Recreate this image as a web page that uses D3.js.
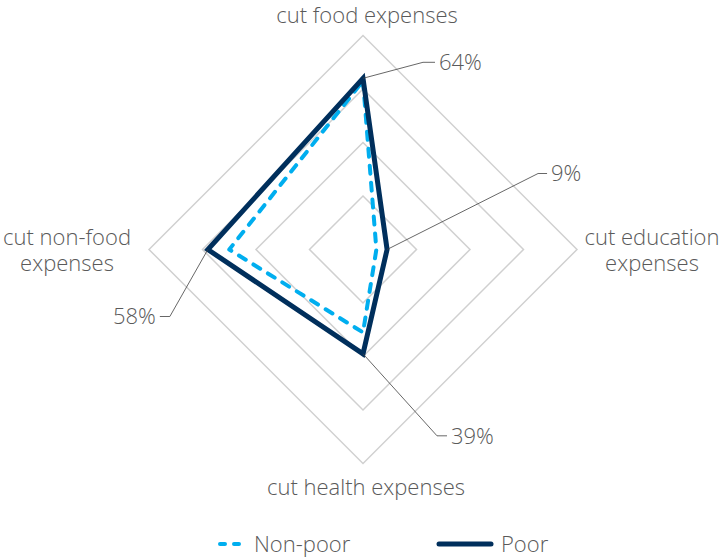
<!DOCTYPE html>
<html><head><meta charset="utf-8">
<script src="https://cdn.jsdelivr.net/npm/d3@7"></script>
<style>body{margin:0;background:#fff}svg{display:block}text{font-family:"Open Sans",Lato,sans-serif;font-weight:300;fill:#5a5a5a}</style>
</head><body><svg id="c" width="723" height="559"></svg>
<script>
const axes = ["cut food expenses", "cut education expenses", "cut health expenses", "cut non-food expenses"];
const axisLabelLines = [["cut food expenses"], ["cut education", "expenses"], ["cut health expenses"], ["cut non-food", "expenses"]];
const nonPoor = [63, 5, 31, 50];
const poor = [64, 9, 39, 58];
const gridLevels = [20, 40, 60, 80];
const poorLabels = ["64%", "9%", "39%", "58%"];
const seriesNames = ["Non-poor", "Poor"];

const svg = d3.select("#c");
const cx = 363, cy = 249.5, R = 214;
const FS = 22;
const r = d3.scaleLinear().domain([0, 80]).range([0, R]);
const angle = i => -Math.PI / 2 + i * Math.PI / 2;
const pt = (i, v) => [cx + r(v) * Math.cos(angle(i)), cy + r(v) * Math.sin(angle(i))];
const line = d3.line().curve(d3.curveLinearClosed);

// grid
svg.append("g").selectAll("path").data(gridLevels).join("path")
  .attr("d", lv => line(axes.map((a, i) => pt(i, lv))))
  .attr("fill", "none").attr("stroke", "#d0d0d0").attr("stroke-width", 1.5);

// series
svg.append("path").attr("d", line(nonPoor.map((v, i) => pt(i, v))))
  .attr("fill", "none").attr("stroke", "#00aeef").attr("stroke-width", 4)
  .attr("stroke-dasharray", "8,9").attr("stroke-linecap", "round").attr("stroke-linejoin", "round");
svg.append("path").attr("d", line(poor.map((v, i) => pt(i, v))))
  .attr("fill", "none").attr("stroke", "#002f5c").attr("stroke-width", 5).attr("stroke-linejoin", "miter");

// leader lines & data labels
const leaderOffsets = [[60, -16, 12], [151, -76, 9], [74, 82, 10], [-38, 67, -10]];
const lg = svg.append("g");
poor.forEach((v, i) => {
  const [x0, y0] = pt(i, v);
  const [dx, dy, h] = leaderOffsets[i];
  const x1 = x0 + dx, y1 = y0 + dy, x2 = x1 + h;
  lg.append("polyline").attr("points", `${x0},${y0} ${x1},${y1} ${x2},${y1}`)
    .attr("fill", "none").attr("stroke", "#404040").attr("stroke-width", 0.8);
  lg.append("text").attr("x", x2 + (h > 0 ? 4 : -4)).attr("y", y1).attr("dy", "0.35em")
    .attr("text-anchor", h > 0 ? "start" : "end").attr("font-size", FS).text(poorLabels[i]);
});

// axis labels
const labelPos = [[367, 15], [652, 237], [366, 487], [67, 237]];
axisLabelLines.forEach((lines, i) => {
  const t = svg.append("text").attr("text-anchor", "middle").attr("font-size", FS)
    .attr("x", labelPos[i][0]).attr("y", labelPos[i][1]);
  lines.forEach((l, j) => t.append("tspan").attr("x", labelPos[i][0]).attr("dy", j === 0 ? "0.35em" : 26).text(l));
});

// legend
const lgd = svg.append("g");
lgd.append("line").attr("x1", 220).attr("x2", 240).attr("y1", 544).attr("y2", 544)
  .attr("stroke", "#00aeef").attr("stroke-width", 4).attr("stroke-dasharray", "5,9").attr("stroke-linecap", "round");
lgd.append("text").attr("x", 254).attr("y", 544).attr("dy", "0.35em").attr("font-size", FS).text(seriesNames[0]);
lgd.append("line").attr("x1", 439).attr("x2", 491).attr("y1", 544).attr("y2", 544)
  .attr("stroke", "#002f5c").attr("stroke-width", 5).attr("stroke-linecap", "round");
lgd.append("text").attr("x", 501).attr("y", 544).attr("dy", "0.35em").attr("font-size", FS).text(seriesNames[1]);
</script></body></html>
